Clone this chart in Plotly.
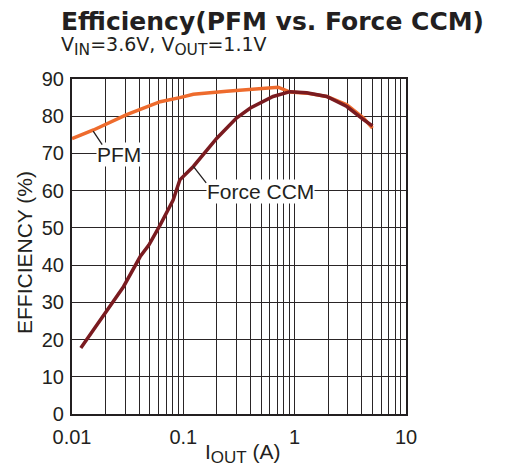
import math
import plotly.graph_objects as go

# Data
pfm_x = [0.01, 0.0156, 0.031, 0.062, 0.093, 0.123, 0.245, 0.37, 0.60, 0.71, 0.91, 1.28, 1.94, 2.94, 4.15, 5.0]
pfm_y = [74.0, 76.3, 80.4, 83.9, 85.0, 85.9, 86.7, 87.1, 87.8, 87.8, 86.5, 86.2, 85.3, 83.1, 79.5, 76.8]

ccm_x = [0.012, 0.0199, 0.029, 0.041, 0.049, 0.062, 0.081, 0.093, 0.123, 0.20, 0.30, 0.40, 0.64, 0.91, 1.28, 1.94, 2.94, 4.15, 5.0]
ccm_y = [17.7, 27.1, 34.2, 42.3, 45.4, 50.8, 57.5, 62.9, 66.5, 74.1, 79.5, 82.2, 85.3, 86.6, 86.3, 85.3, 82.6, 79.1, 77.4]

x_decades = [0.01, 0.1, 1, 10]
x_labels = ["0.01", "0.1", "1", "10"]
y_ticks = [0, 10, 20, 30, 40, 50, 60, 70, 80, 90]

# label anchor points on the curves
pfm_label_at = (0.0155, 76.0)
ccm_label_at = (0.123, 66.5)

# grid positions (1..9 per decade) with labels only on decades
tickvals = []
ticktext = []
for i, d in enumerate(x_decades[:-1]):
    for m in range(1, 10):
        tickvals.append(round(d * m, 6))
        ticktext.append(x_labels[i] if m == 1 else "")
tickvals.append(x_decades[-1])
ticktext.append(x_labels[-1])

GRID = "#2a2526"
TXT = "#231f20"
FONT = "Liberation Sans, Arial, sans-serif"
TFONT = "DejaVu Sans, sans-serif"

# page body has an 8px margin, so the figure is offset by 8px
OFF = 8
W, H = 501, 458
ML, MR, MT, MB = 64, 103, 71, 52
PW, PH = W - ML - MR, H - MT - MB


def px(x, y):
    """reference-image pixel -> paper coordinates"""
    x -= OFF
    y -= OFF
    return (x - ML) / PW, (H - MB - y) / PH


fig = go.Figure()
fig.add_trace(go.Scatter(x=pfm_x, y=pfm_y, mode="lines", line=dict(color="#ee6b2d", width=3.5), name="PFM"))
fig.add_trace(go.Scatter(x=ccm_x, y=ccm_y, mode="lines", line=dict(color="#7a1b20", width=3.5), name="Force CCM"))

fig.update_layout(
    width=W, height=H,
    margin=dict(l=ML, r=MR, t=MT, b=MB),
    paper_bgcolor="white", plot_bgcolor="white",
    showlegend=False,
    font=dict(family=FONT, color=TXT, size=20),
)
fig.update_xaxes(
    type="log", range=[-2, 1], automargin=False,
    tickvals=tickvals, ticktext=ticktext,
    showgrid=True, gridcolor=GRID, gridwidth=1.2,
    showline=True, linecolor=TXT, linewidth=2.2, mirror=True,
    ticks="", tickfont=dict(size=20, family=FONT, color=TXT),
    ticklabelstandoff=4,
    zeroline=False,
)
fig.update_yaxes(
    range=[0, 90], tickvals=y_ticks, automargin=False,
    showgrid=True, gridcolor=GRID, gridwidth=1.2,
    showline=True, linecolor=TXT, linewidth=2.2, mirror=True,
    ticks="", tickfont=dict(size=20, family=FONT, color=TXT),
    ticklabelstandoff=2,
    zeroline=False,
)

# curve labels (white boxes over the grid)
fig.add_annotation(
    x=math.log10(pfm_label_at[0]), y=pfm_label_at[1], xref="x", yref="y",
    text="PFM", showarrow=False, xshift=26, yshift=-23,
    bgcolor="white", font=dict(size=21, family=FONT, color=TXT), borderpad=0,
)
fig.add_annotation(
    x=math.log10(ccm_label_at[0]), y=ccm_label_at[1], xref="x", yref="y",
    text="Force CCM", showarrow=False, xshift=67, yshift=-25,
    bgcolor="white", font=dict(size=21, family=FONT, color=TXT), borderpad=0,
)
# leader lines
fig.add_annotation(
    x=math.log10(pfm_label_at[0]), y=pfm_label_at[1], xref="x", yref="y",
    text="", showarrow=True, arrowhead=0, arrowwidth=1.3, arrowcolor=TXT,
    ax=10, ay=15, standoff=0, startstandoff=0,
)
fig.add_annotation(
    x=math.log10(ccm_label_at[0]), y=ccm_label_at[1], xref="x", yref="y",
    text="", showarrow=True, arrowhead=0, arrowwidth=1.3, arrowcolor=TXT,
    ax=14, ay=18, standoff=0, startstandoff=0,
)

tx, ty = px(59, 22)
fig.add_annotation(
    x=tx, y=ty, xref="paper", yref="paper", xanchor="left", yanchor="middle",
    text="<b>Efficiency(PFM vs. Force CCM)</b>", showarrow=False,
    font=dict(size=25, family=TFONT, color=TXT),
)
sx, sy = px(59, 46)
fig.add_annotation(
    x=sx, y=sy, xref="paper", yref="paper", xanchor="left", yanchor="middle",
    text="V<sub><span style=\"font-size:15.5px\">IN</span></sub>=3.6V, V<sub><span style=\"font-size:15.5px\">OUT</span></sub>=1.1V",
    showarrow=False,
    font=dict(size=19, family=TFONT, color=TXT),
)
xx, xy = px(243, 454)
fig.add_annotation(
    x=xx, y=xy, xref="paper", yref="paper", xanchor="center", yanchor="middle",
    text="I<sub><span style=\"font-size:17px\">OUT</span></sub> (A)", showarrow=False,
    font=dict(size=21, family=FONT, color=TXT),
)
yx, yy = px(24, 253)
fig.add_annotation(
    x=yx, y=yy, xref="paper", yref="paper", xanchor="center", yanchor="middle",
    text="EFFICIENCY (%)", showarrow=False, textangle=-90,
    font=dict(size=21, family=FONT, color=TXT),
)

fig.write_html("out.html")
